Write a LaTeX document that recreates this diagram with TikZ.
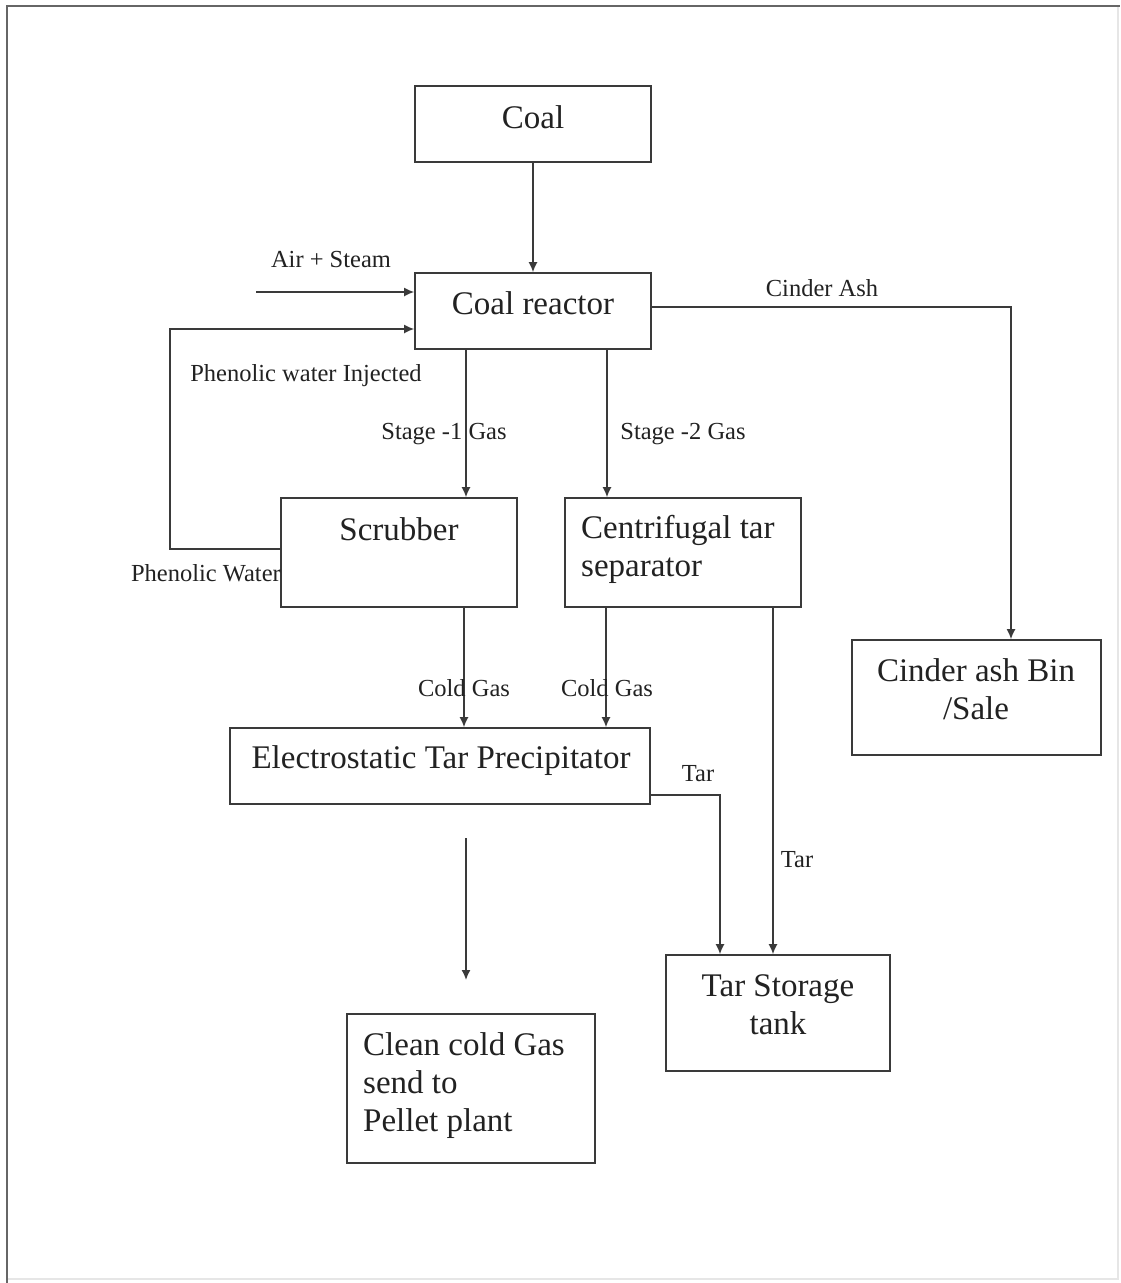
\documentclass[tikz,border=0pt]{standalone}
\usepackage{fontspec}
\setmainfont{Liberation Serif}
\usetikzlibrary{arrows.meta}
\definecolor{linec}{HTML}{3A3A3A}
\definecolor{txt}{HTML}{222222}
\definecolor{framec}{HTML}{666666}
\definecolor{framel}{HTML}{E6E6E6}
\begin{document}
\begin{tikzpicture}[x=1pt,y=-1pt,
  box/.style={draw=linec, line width=1.6pt, inner sep=0pt, rectangle},
  big/.style={font=\fontsize{33}{38}\selectfont, text=txt, inner sep=0pt},
  small/.style={font=\fontsize{24.5}{28}\selectfont, text=txt, inner sep=0pt},
  flow/.style={draw=linec, line width=1.6pt, -{Latex[length=10pt,width=9pt]}},
  wire/.style={draw=linec, line width=1.6pt}]
\useasboundingbox (0,0) rectangle (1120,1283);
\fill[white] (0,0) rectangle (1120,1283);
\draw[framel, line width=1.5pt] (1118,6) -- (1118,1279) -- (7,1279);
\draw[framec, line width=2pt] (7,1283) -- (7,6) -- (1120,6);

% boxes
\node[box, minimum width=236pt, minimum height=76pt] (coal) at (533,124) {};
\node[box, minimum width=236pt, minimum height=76pt] (reactor) at (533,311) {};
\node[box, minimum width=236pt, minimum height=109pt] (scrub) at (399,552.5) {};
\node[box, minimum width=236pt, minimum height=109pt] (cent) at (683,552.5) {};
\node[box, minimum width=249pt, minimum height=115pt] (cinder) at (976.5,697.5) {};
\node[box, minimum width=420pt, minimum height=76pt] (etp) at (440,766) {};
\node[box, minimum width=224pt, minimum height=116pt] (tank) at (778,1013) {};
\node[box, minimum width=248pt, minimum height=149pt] (clean) at (471,1088.5) {};

% box texts
\node[big, anchor=base] (coalt) at (533,128) {Coal};
\node[big, anchor=base] (reactort) at (533,314) {Coal reactor};
\node[big, anchor=base] (scrubt) at (399,540) {Scrubber};
\node[big, anchor=north west, align=left] (centt) at (581,515) {Centrifugal tar\\separator};
\node[big, anchor=north, align=center] (cindert) at (976,658) {Cinder ash Bin\\/Sale};
\node[big, anchor=base] (etpt) at (441,768) {Electrostatic Tar Precipitator};
\node[big, anchor=north, align=center] (tankt) at (778,974) {Tar Storage\\tank};
\node[big, anchor=north west, align=left] (cleant) at (363,1032) {Clean cold Gas\\send to\\Pellet plant};

% connectors
\draw[flow] (coal.south) -- (reactor.north);

\coordinate (airin) at (256,292);
\draw[flow] (airin) -- (reactor.west |- airin);

\coordinate (pw1) at (170,549);
\coordinate (pw2) at (170,329);
\draw[flow] (scrub.west |- pw1) -- (pw1) -- (pw2) -- (reactor.west |- pw2);

\draw[flow] (reactor.south -| 466,0) -- (scrub.north -| 466,0);
\draw[flow] (reactor.south -| 607,0) -- (cent.north -| 607,0);

\coordinate (ca) at (1011,307);
\draw[flow] (reactor.east |- ca) -- (ca) -- (cinder.north -| ca);

\draw[flow] (scrub.south -| 464,0) -- (etp.north -| 464,0);
\draw[flow] (cent.south -| 606,0) -- (etp.north -| 606,0);

\coordinate (tr) at (720,795);
\draw[flow] (etp.east |- tr) -- (tr) -- (tank.north -| tr);
\draw[flow] (cent.south -| 773,0) -- (tank.north -| 773,0);

\coordinate (g1) at (466,838);
\coordinate (g2) at (466,980);
\draw[flow] (g1) -- (g2);

% small labels
\node[small, anchor=base] (lair) at (331,267) {Air + Steam};
\node[small, anchor=base] (lcinder) at (822,296) {Cinder Ash};
\node[small, anchor=base] (linj) at (306,381) {Phenolic water Injected};
\node[small, anchor=base] (ls1) at (444,439) {Stage -1 Gas};
\node[small, anchor=base] (ls2) at (683,439) {Stage -2 Gas};
\node[small, anchor=base east] (lpw) at (281,581) {Phenolic Water};
\node[small, anchor=base] (lcg1) at (464,696) {Cold Gas};
\node[small, anchor=base] (lcg2) at (607,696) {Cold Gas};
\node[small, anchor=base] (ltar1) at (698,781) {Tar};
\node[small, anchor=base] (ltar2) at (797,867) {Tar};
\end{tikzpicture}
\end{document}
